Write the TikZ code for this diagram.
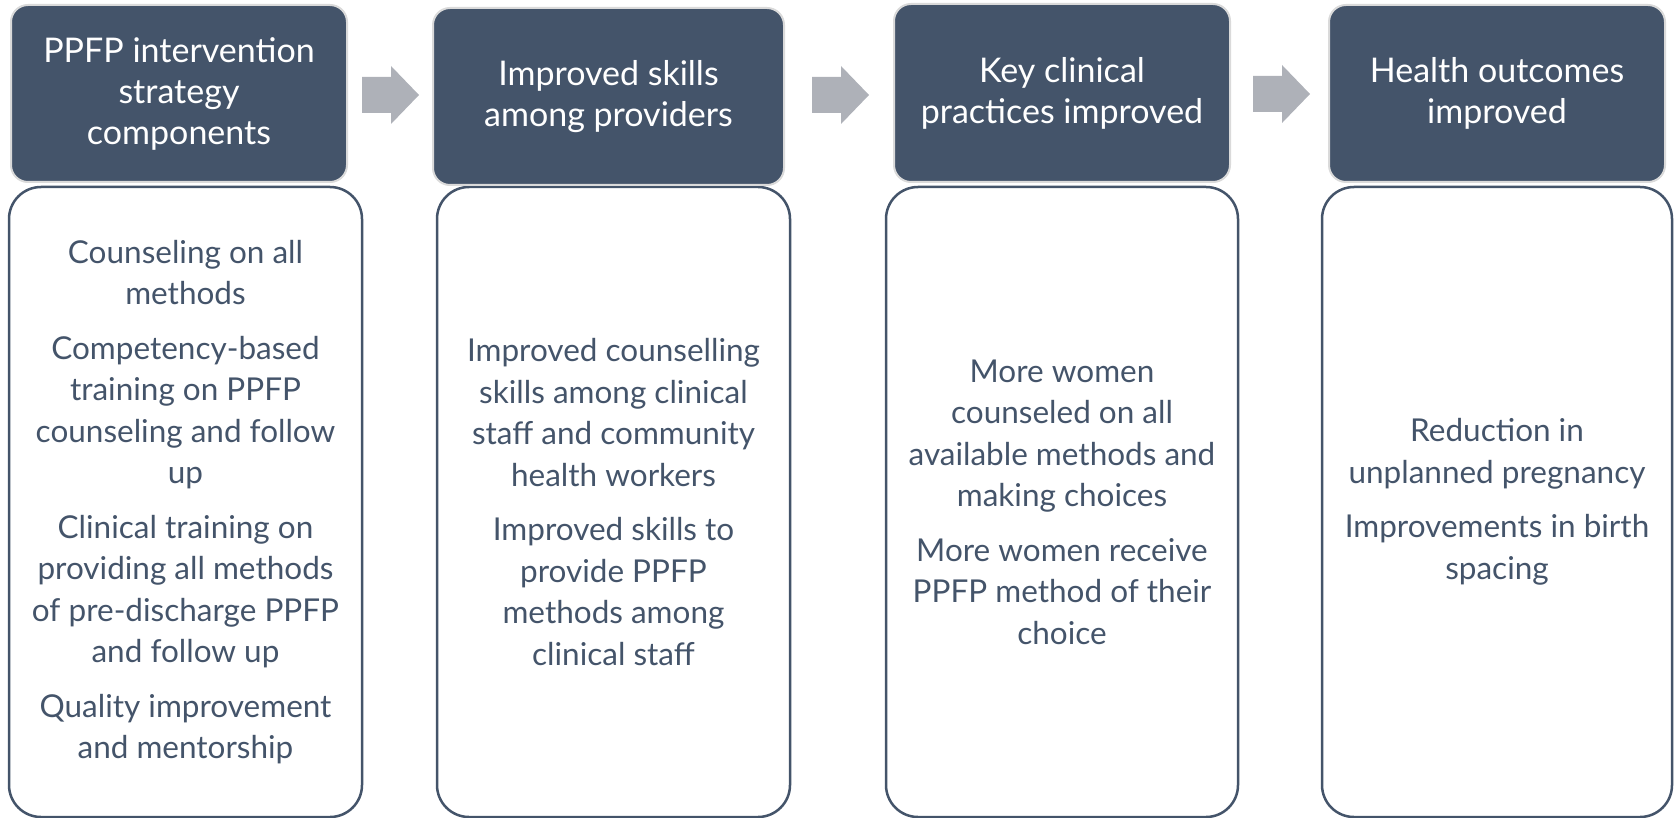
\documentclass[tikz,border=0pt]{standalone}
\usepackage{fontspec}
\setmainfont{Lato}
\definecolor{slate}{HTML}{44546A}
\definecolor{arrowgray}{HTML}{AEB1B8}
\definecolor{rimgray}{HTML}{DADADA}
\begin{document}
\begin{tikzpicture}[x=1pt, y=-1pt,
    head/.style={fill=slate, draw=rimgray, line width=2pt, rounded corners=17pt,
      minimum width=336pt, minimum height=177pt, inner sep=0pt, text=white,
      align=center, font=\fontsize{34}{41}\selectfont},
    body/.style={draw=slate, line width=2.5pt, rounded corners=32pt,
      minimum width=353pt, minimum height=630pt, inner sep=0pt, text=slate,
      align=center, font=\fontsize{31.5}{41.5}\selectfont}]
    \useasboundingbox (0,0) rectangle (1677,818);
    \node[body] (b1) at (185.5,502) {Counseling on all\\methods\\[13pt]
      Competency-based\\training on PPFP\\counseling and follow\\up\\[13pt]
      Clinical training on\\providing all methods\\of pre-discharge PPFP\\and follow up\\[13pt]
      Quality improvement\\and mentorship};
    \node[body] (b2) at (613.5,502) {Improved counselling\\skills among clinical\\staff and community\\health workers\\[13pt]
      Improved skills to\\provide PPFP\\methods among\\clinical staff};
    \node[body, minimum width=352pt] (b3) at (1062,502) {More women\\counseled on all\\available methods and\\making choices\\[13pt]
      More women receive\\PPFP method of their\\choice};
    \node[body, minimum width=350pt] (b4) at (1497,502) {Reduction in\\unplanned pregnancy\\[13pt]
      Improvements in birth\\spacing};
    \node[head] (h1) at (179,93.5) {PPFP intervention\\strategy\\components};
    \node[head, minimum width=351pt] (h2) at (608.5,96.5) {Improved skills\\among providers};
    \node[head, minimum height=178pt] (h3) at (1062,93) {Key clinical\\practices improved};
    \node[head] (h4) at (1497,93.5) {Health outcomes\\improved};
    \foreach \x/\y in {362/95, 812/95, 1253/94}
      \fill[arrowgray] (\x,\y-18) -- ++(29,0) -- ++(0,-11) -- ++(28,29) -- ++(-28,29)
        -- ++(0,-11) -- ++(-29,0) -- cycle;
\end{tikzpicture}
\end{document}
